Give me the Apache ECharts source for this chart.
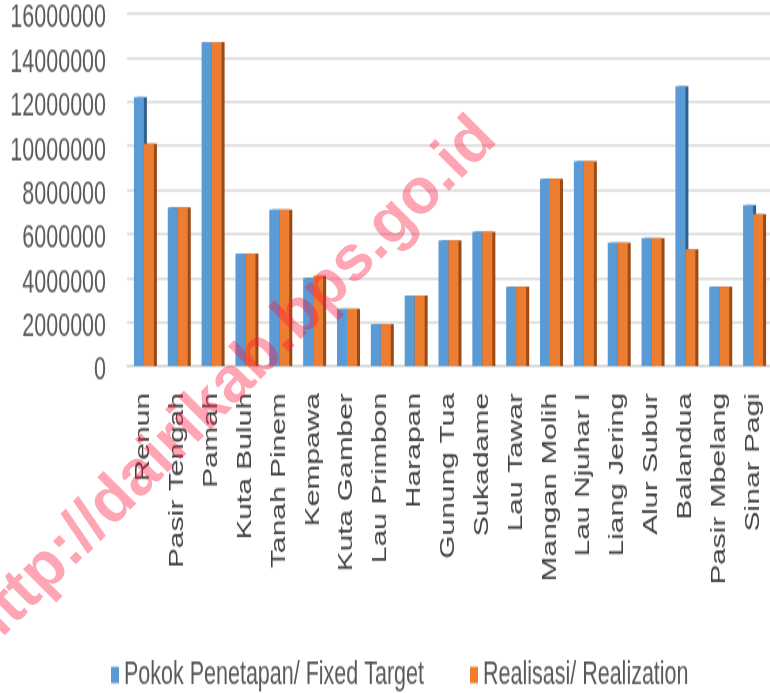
<!DOCTYPE html>
<html>
<head>
<meta charset="utf-8">
<title>Pokok Penetapan dan Realisasi</title>
<script src="https://cdn.jsdelivr.net/npm/echarts@6/dist/echarts.min.js"></script>
<style>
    html, body { margin: 0; padding: 0; background: #fff; overflow: hidden; }
    #wrap { position: relative; width: 770px; height: 693px; }
    /* the source picture is a vertically stretched Excel chart */
    #chart { position: absolute; left: 0; top: 0; width: 770px; height: 462px; transform: scaleY(1.5); transform-origin: 0 0; }
    #mark { position: absolute; left: 0; top: 0; width: 770px; height: 693px; pointer-events: none; }
</style>
</head>
<body>
<div id="wrap">
    <div id="chart"></div>
    <div id="mark"></div>
</div>
<script>
    const desa = ['Renun', 'Pasir Tengah', 'Pamah', 'Kuta Buluh', 'Tanah Pinem', 'Kempawa',
        'Kuta Gamber', 'Lau Primbon', 'Harapan', 'Gunung Tua', 'Sukadame', 'Lau Tawar',
        'Mangan Molih', 'Lau Njuhar I', 'Liang Jering', 'Alur Subur', 'Balandua',
        'Pasir Mbelang', 'Sinar Pagi'];
    const target = [12200000, 7200000, 14700000, 5100000, 7100000, 4000000,
        2600000, 1900000, 3200000, 5700000, 6100000, 3600000,
        8500000, 9300000, 5600000, 5800000, 12700000,
        3600000, 7300000];
    const realisasi = [10100000, 7200000, 14700000, 5100000, 7100000, 4100000,
        2600000, 1900000, 3200000, 5700000, 6100000, 3600000,
        8500000, 9300000, 5600000, 5800000, 5300000,
        3600000, 6900000];
    const seriesNames = ['Pokok Penetapan/ Fixed Target', 'Realisasi/ Realization'];
    const yMax = 16000000;
    const yStep = 2000000;

    const font = '"Liberation Sans", Arial, sans-serif';
    const colors = ['#5b9bd5', '#ed7d31'];

    const myChart = echarts.init(document.getElementById('chart'));
    const option = {
        color: colors,
        animation: false,
        grid: {
            left: 127,
            right: -5,
            top: 9,
            bottom: 218
        },
        legend: {
            data: seriesNames,
            icon: 'rect',
            itemWidth: 8,
            itemHeight: 11,
            itemGap: 46,
            left: 106,
            top: 434,
            textStyle: {
                fontSize: 21.5,
                color: '#595959',
                fontFamily: font
            }
        },
        xAxis: {
            type: 'category',
            data: desa,
            axisLine: {
                lineStyle: { color: '#d9d9d9', width: 1.5 }
            },
            axisTick: { show: false },
            axisLabel: {
                interval: 0,
                rotate: 90,
                margin: 18,
                fontSize: 20,
                color: '#404040',
                fontFamily: font
            }
        },
        yAxis: {
            type: 'value',
            min: 0,
            max: yMax,
            interval: yStep,
            axisLine: { show: false },
            axisTick: { show: false },
            splitLine: {
                lineStyle: { color: '#d9d9d9', width: 1.5 }
            },
            axisLabel: {
                margin: 21,
                formatter: function (v) { return '{n|' + v + '}'; },
                rich: {
                    n: {
                        fontSize: 21.5,
                        color: '#595959',
                        fontFamily: font,
                        padding: [7, 0, 0, 0]
                    }
                }
            }
        },
        series: [
            {
                name: seriesNames[0],
                type: 'bar',
                data: target,
                barWidth: 10,
                barGap: '0%',
                itemStyle: {
                    shadowColor: '#2f5f8c',
                    shadowOffsetX: 3
                }
            },
            {
                name: seriesNames[1],
                type: 'bar',
                data: realisasi,
                barWidth: 10,
                barGap: '0%',
                itemStyle: {
                    shadowColor: '#9a4a16',
                    shadowOffsetX: 3
                }
            }
        ]
    };
    myChart.setOption(option);

    // watermark, drawn unstretched on top
    const markChart = echarts.init(document.getElementById('mark'));
    markChart.setOption({
        graphic: [{
            type: 'text',
            x: 230,
            y: 385,
            rotation: Math.PI / 4,
            z: 100,
            style: {
                text: 'http://dairikab.bps.go.id',
                fontSize: 64,
                fontWeight: 'bold',
                fontFamily: font,
                fill: 'rgba(255, 20, 60, 0.38)',
                align: 'center',
                verticalAlign: 'middle'
            }
        }]
    });
</script>
</body>
</html>
